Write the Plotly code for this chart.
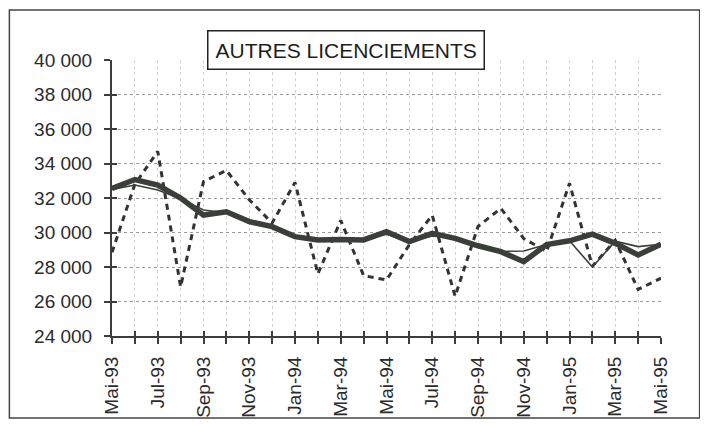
import plotly.graph_objects as go

months = ["Mai-93", "Jun-93", "Jul-93", "Aoû-93", "Sep-93", "Oct-93", "Nov-93", "Déc-93",
          "Jan-94", "Fév-94", "Mar-94", "Avr-94", "Mai-94", "Jun-94", "Jul-94", "Aoû-94",
          "Sep-94", "Oct-94", "Nov-94", "Déc-94", "Jan-95", "Fév-95", "Mar-95", "Avr-95", "Mai-95"]
tick_labels = [m if i % 2 == 0 else "" for i, m in enumerate(months)]

brut = [28850, 32800, 34700, 26850, 32950, 33600, 31900, 30550, 32900, 27600, 30700, 27500,
        27250, 29300, 31000, 26300, 30350, 31400, 29650, 28900, 32850, 28050, 29550, 26700, 27350]
cvs = [32500, 32750, 32460, 31950, 31300, 31150, 30600, 30300, 29760, 29570, 29600, 29570,
       29900, 29470, 29800, 29660, 29230, 28900, 28930, 29300, 29520, 28000, 29500, 29180, 29320]
tendance = [32560, 33070, 32750, 32000, 31010, 31200, 30630, 30340, 29760, 29570, 29600, 29570,
            30050, 29470, 29950, 29660, 29230, 28890, 28310, 29300, 29520, 29900, 29370, 28700, 29320]

y_ticks = [24000, 26000, 28000, 30000, 32000, 34000, 36000, 38000, 40000]
y_tick_text = ["24 000", "26 000", "28 000", "30 000", "32 000", "34 000", "36 000", "38 000", "40 000"]
title_text = "AUTRES LICENCIEMENTS"

FONT = "Liberation Sans, Arial, sans-serif"
LINE = "#3a3f3a"
idx = list(range(len(months)))

fig = go.Figure()
fig.add_trace(go.Scatter(x=idx, y=brut, mode="lines", name="brut",
                         line=dict(color="#333333", width=3, dash="6px,5px"), hoverinfo="skip"))
fig.add_trace(go.Scatter(x=idx, y=tendance, mode="lines", name="tendance",
                         line=dict(color=LINE, width=5.5), hoverinfo="skip"))
fig.add_trace(go.Scatter(x=idx, y=cvs, mode="lines", name="cvs",
                         line=dict(color=LINE, width=1.6), hoverinfo="skip"))
# invisible trace for the overlay axes (inside half of the crossing ticks)
fig.add_trace(go.Scatter(x=[idx[0]], y=[y_ticks[0]], xaxis="x2", yaxis="y2", mode="markers",
                         marker=dict(opacity=0), hoverinfo="skip", showlegend=False))

fig.update_layout(
    width=692, height=418,
    margin=dict(l=104, r=39, t=52, b=90),
    paper_bgcolor="white", plot_bgcolor="white",
    showlegend=False,
    font=dict(family=FONT, color="#2b2b2b", size=19),
    xaxis=dict(range=[0, 24], tickmode="array", tickvals=idx, ticktext=tick_labels,
               tickangle=-90, ticks="outside", ticklen=6, tickwidth=1.5, tickcolor=LINE,
               showline=True, linecolor=LINE, linewidth=2,
               showgrid=True, gridcolor="#d2d2d2", griddash="dot", gridwidth=1,
               zeroline=False, tickfont=dict(size=19, family=FONT), ticklabelstandoff=5,
               automargin=False),
    yaxis=dict(range=[24000, 40000], tickmode="array", tickvals=y_ticks, ticktext=y_tick_text,
               ticks="outside", ticklen=6, tickwidth=1.5, tickcolor=LINE,
               showline=True, linecolor=LINE, linewidth=2,
               showgrid=True, gridcolor="#9a9a9a", griddash="dot", gridwidth=1,
               zeroline=False, tickfont=dict(size=19, family=FONT), ticklabelstandoff=8,
               automargin=False),
    xaxis2=dict(overlaying="x", anchor="y", side="bottom", range=[0, 24], tickmode="array",
                tickvals=idx, ticks="inside", ticklen=5, tickwidth=1.5, tickcolor=LINE,
                showticklabels=False, showgrid=False, showline=False, zeroline=False),
    yaxis2=dict(overlaying="y", anchor="x", side="left", range=[24000, 40000], tickmode="array",
                tickvals=y_ticks, ticks="inside", ticklen=5, tickwidth=1.5, tickcolor=LINE,
                showticklabels=False, showgrid=False, showline=False, zeroline=False),
    annotations=[dict(text=title_text, x=0.4255, y=1.036, xref="paper", yref="paper",
                      xanchor="center", yanchor="middle", showarrow=False,
                      font=dict(size=21, family=FONT, color="#1e1e1e"),
                      bordercolor="#222222", borderwidth=1.5, borderpad=7, bgcolor="white")],
    shapes=[dict(type="rect", xref="paper", yref="paper", x0=-0.1869, x1=1.0704,
                 y0=-0.2971, y1=1.181, line=dict(color="#444444", width=1.5), layer="below")],
)

fig.write_html("out.html")
